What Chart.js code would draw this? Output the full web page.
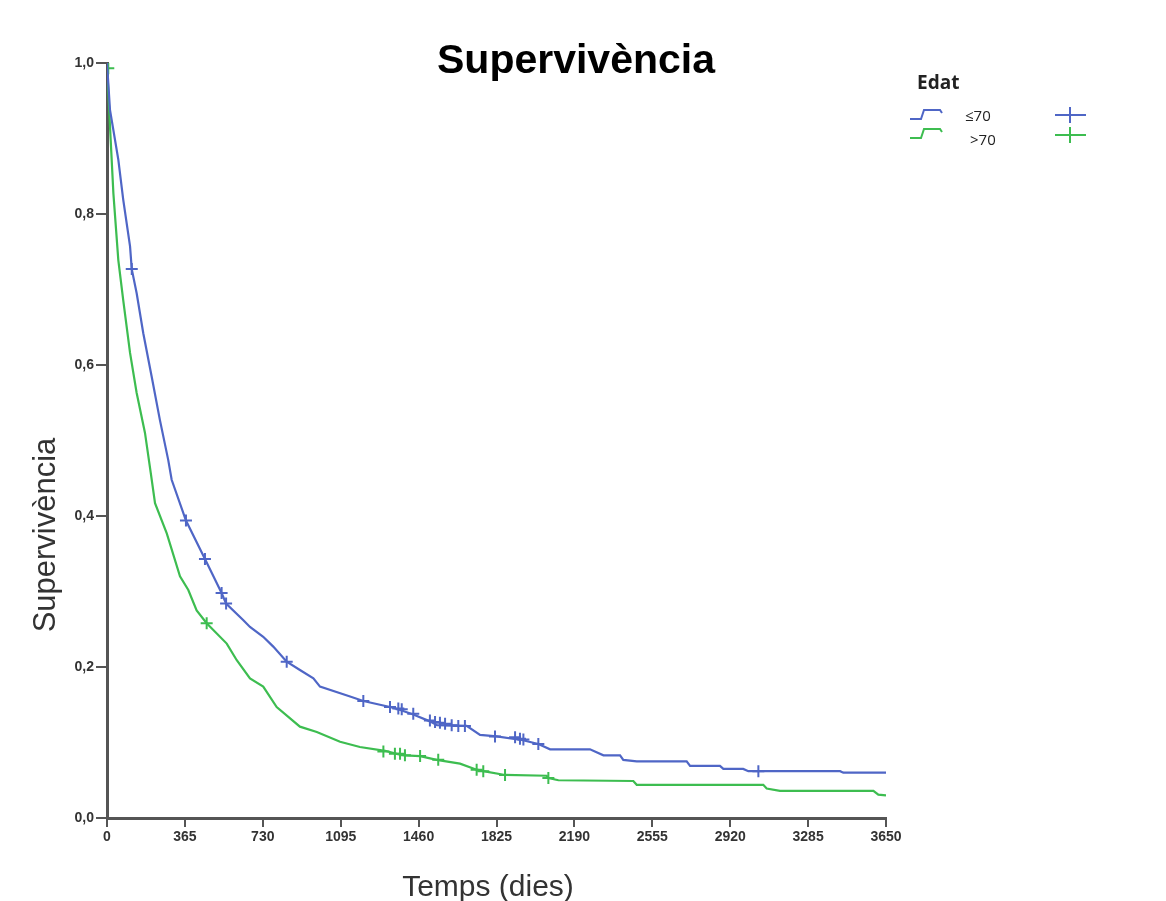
<!DOCTYPE html>
<html>
<head>
<meta charset="utf-8">
<script src="https://cdn.jsdelivr.net/npm/chart.js@4/dist/chart.umd.min.js"></script>
<style>
html,body{margin:0;padding:0;background:#fff;}
#wrap{width:1166px;height:901px;position:relative;}
</style>
</head>
<body>
<div id="wrap"><canvas id="c" width="1166" height="901"></canvas></div>
<script>
// ---- Data ----
const chartTitle = 'Supervivència';
const xAxisTitle = 'Temps (dies)';
const yAxisTitle = 'Supervivència';
const legendTitle = 'Edat';
const seriesNames = ['≤70', '>70'];

const xTicks = [0, 365, 730, 1095, 1460, 1825, 2190, 2555, 2920, 3285, 3650];
const yTicks = [0, 0.2, 0.4, 0.6, 0.8, 1.0];

// Survival curve, age <= 70
const blueDays = [0, 14, 53, 76, 108, 116, 139, 170, 209, 248, 287, 303, 370, 459, 537, 558, 639, 670, 732, 779, 842, 904, 967, 998, 1139, 1201, 1326, 1364, 1435, 1513, 1546, 1685, 1748, 1826, 1949, 2021, 2076, 2263, 2326, 2404, 2419, 2482, 2716, 2732, 2872, 2888, 2981, 3005, 3435, 3450, 3650];
const blueSurv = [1.0, 0.938, 0.872, 0.819, 0.757, 0.727, 0.695, 0.642, 0.585, 0.527, 0.474, 0.448, 0.394, 0.343, 0.298, 0.284, 0.262, 0.253, 0.240, 0.227, 0.207, 0.196, 0.185, 0.174, 0.161, 0.155, 0.147, 0.144, 0.137, 0.128, 0.123, 0.122, 0.110, 0.108, 0.103, 0.098, 0.091, 0.091, 0.083, 0.083, 0.077, 0.075, 0.075, 0.069, 0.069, 0.065, 0.065, 0.062, 0.062, 0.060, 0.060];

// Survival curve, age > 70
const greenDays = [0, 14, 30, 53, 76, 108, 139, 178, 205, 225, 280, 342, 381, 420, 467, 561, 608, 670, 732, 795, 904, 983, 1092, 1185, 1303, 1357, 1396, 1467, 1545, 1654, 1732, 1763, 1865, 2060, 2068, 2115, 2466, 2482, 3075, 3091, 3153, 3591, 3614, 3650];
const greenSurv = [1.0, 0.916, 0.827, 0.739, 0.686, 0.616, 0.563, 0.510, 0.457, 0.417, 0.377, 0.320, 0.302, 0.275, 0.258, 0.231, 0.209, 0.185, 0.174, 0.147, 0.121, 0.114, 0.101, 0.094, 0.089, 0.085, 0.083, 0.082, 0.077, 0.072, 0.064, 0.062, 0.057, 0.056, 0.053, 0.050, 0.049, 0.044, 0.044, 0.039, 0.036, 0.036, 0.031, 0.030];

// Censored observations (+ marks)
const blueCensorDays = [116, 370, 459, 537, 558, 842, 1201, 1326, 1365, 1381, 1435, 1513, 1537, 1560, 1584, 1615, 1646, 1677, 1818, 1912, 1935, 1951, 2021, 3052];
const blueCensorSurv = [0.727, 0.394, 0.343, 0.298, 0.284, 0.207, 0.155, 0.147, 0.145, 0.144, 0.138, 0.129, 0.127, 0.126, 0.125, 0.123, 0.122, 0.122, 0.108, 0.107, 0.105, 0.104, 0.098, 0.062];
const greenCensorDays = [6, 467, 1295, 1349, 1373, 1396, 1467, 1552, 1732, 1763, 1865, 2068];
const greenCensorSurv = [0.993, 0.258, 0.088, 0.085, 0.085, 0.083, 0.082, 0.077, 0.064, 0.062, 0.057, 0.053];

// ---- Styles ----
const BLUE = '#4f66c6';
const GREEN = '#3dbd50';
const AXIS = '#555555';

function pts(xs, ys) { return xs.map((x, i) => ({x: x, y: ys[i]})); }

const textPlugin = {
  id: 'texts',
  afterDraw(chart) {
    const ctx = chart.ctx;
    ctx.save();
    // Title
    ctx.fillStyle = '#000';
    ctx.font = 'bold 41px "Liberation Sans", Arial, sans-serif';
    ctx.textAlign = 'center';
    ctx.textBaseline = 'alphabetic';
    ctx.fillText(chartTitle, 576, 73);
    // X axis title
    ctx.fillStyle = '#333';
    ctx.font = '30px "Liberation Sans", Arial, sans-serif';
    ctx.fillText(xAxisTitle, 488, 896);
    // Y axis title
    ctx.save();
    ctx.translate(55, 535);
    ctx.rotate(-Math.PI / 2);
    ctx.font = '31px "Liberation Sans", Arial, sans-serif';
    ctx.fillText(yAxisTitle, 0, 0);
    ctx.restore();
    // Legend
    ctx.textAlign = 'left';
    ctx.fillStyle = '#222';
    ctx.font = 'bold 19px "Open Sans", sans-serif';
    ctx.fillText(legendTitle, 917, 89);
    const rows = [{c: BLUE, y: 119, name: seriesNames[0], tx: 965, ty: 117, cy: 115},
                  {c: GREEN, y: 138, name: seriesNames[1], tx: 970, ty: 141, cy: 135}];
    rows.forEach(r => {
      ctx.strokeStyle = r.c;
      ctx.lineWidth = 2;
      ctx.beginPath();
      ctx.moveTo(910, r.y);
      ctx.lineTo(921, r.y);
      ctx.lineTo(924, r.y - 9);
      ctx.lineTo(940, r.y - 9);
      ctx.lineTo(942, r.y - 6);
      ctx.stroke();
      ctx.beginPath();
      ctx.moveTo(1055, r.cy);
      ctx.lineTo(1086, r.cy);
      ctx.moveTo(1070, r.cy - 8);
      ctx.lineTo(1070, r.cy + 8);
      ctx.stroke();
      ctx.fillStyle = '#222';
      ctx.font = '15px "Open Sans", sans-serif';
      ctx.textBaseline = 'middle';
      ctx.fillText(r.name, r.tx, r.ty);
      ctx.textBaseline = 'alphabetic';
    });
    ctx.restore();
  }
};

new Chart(document.getElementById('c'), {
  type: 'line',
  data: {
    datasets: [
      {label: seriesNames[0], data: pts(blueDays, blueSurv), borderColor: BLUE, borderWidth: 2.2, pointRadius: 0, tension: 0, fill: false},
      {label: seriesNames[1], data: pts(greenDays, greenSurv), borderColor: GREEN, borderWidth: 2.2, pointRadius: 0, tension: 0, fill: false},
      {label: seriesNames[0] + ' censurat', data: pts(blueCensorDays, blueCensorSurv), showLine: false, pointStyle: 'cross', pointRadius: 6, pointBorderWidth: 2, borderColor: BLUE, backgroundColor: BLUE},
      {label: seriesNames[1] + ' censurat', data: pts(greenCensorDays, greenCensorSurv), showLine: false, pointStyle: 'cross', pointRadius: 6, pointBorderWidth: 2, borderColor: GREEN, backgroundColor: GREEN}
    ]
  },
  options: {
    responsive: false,
    animation: false,
    events: [],
    layout: {padding: {left: 0, right: 280, top: 63, bottom: 0}},
    plugins: {legend: {display: false}, title: {display: false}, tooltip: {enabled: false}},
    scales: {
      x: {
        type: 'linear', min: 0, max: 3650,
        afterBuildTicks: s => { s.ticks = xTicks.map(v => ({value: v})); },
        afterFit: s => { s.height = 83; },
        ticks: {autoSkip: false, maxRotation: 0, color: '#333', padding: 2,
                callback: v => String(v),
                font: {family: '"Liberation Sans", Arial, sans-serif', size: 14, weight: 'bold'}},
        grid: {display: true, drawOnChartArea: false, drawTicks: true, tickLength: 9, color: AXIS, lineWidth: 2},
        border: {display: true, color: AXIS, width: 3}
      },
      y: {
        type: 'linear', min: 0, max: 1,
        afterBuildTicks: s => { s.ticks = yTicks.map(v => ({value: v})); },
        afterFit: s => { s.width = 107; },
        ticks: {color: '#333', padding: 2,
                callback: v => v.toFixed(1).replace('.', ','),
                font: {family: '"Liberation Sans", Arial, sans-serif', size: 14, weight: 'bold'}},
        grid: {display: true, drawOnChartArea: false, drawTicks: true, tickLength: 11, color: AXIS, lineWidth: 2},
        border: {display: true, color: AXIS, width: 3}
      }
    }
  },
  plugins: [textPlugin]
});
</script>
</body>
</html>
